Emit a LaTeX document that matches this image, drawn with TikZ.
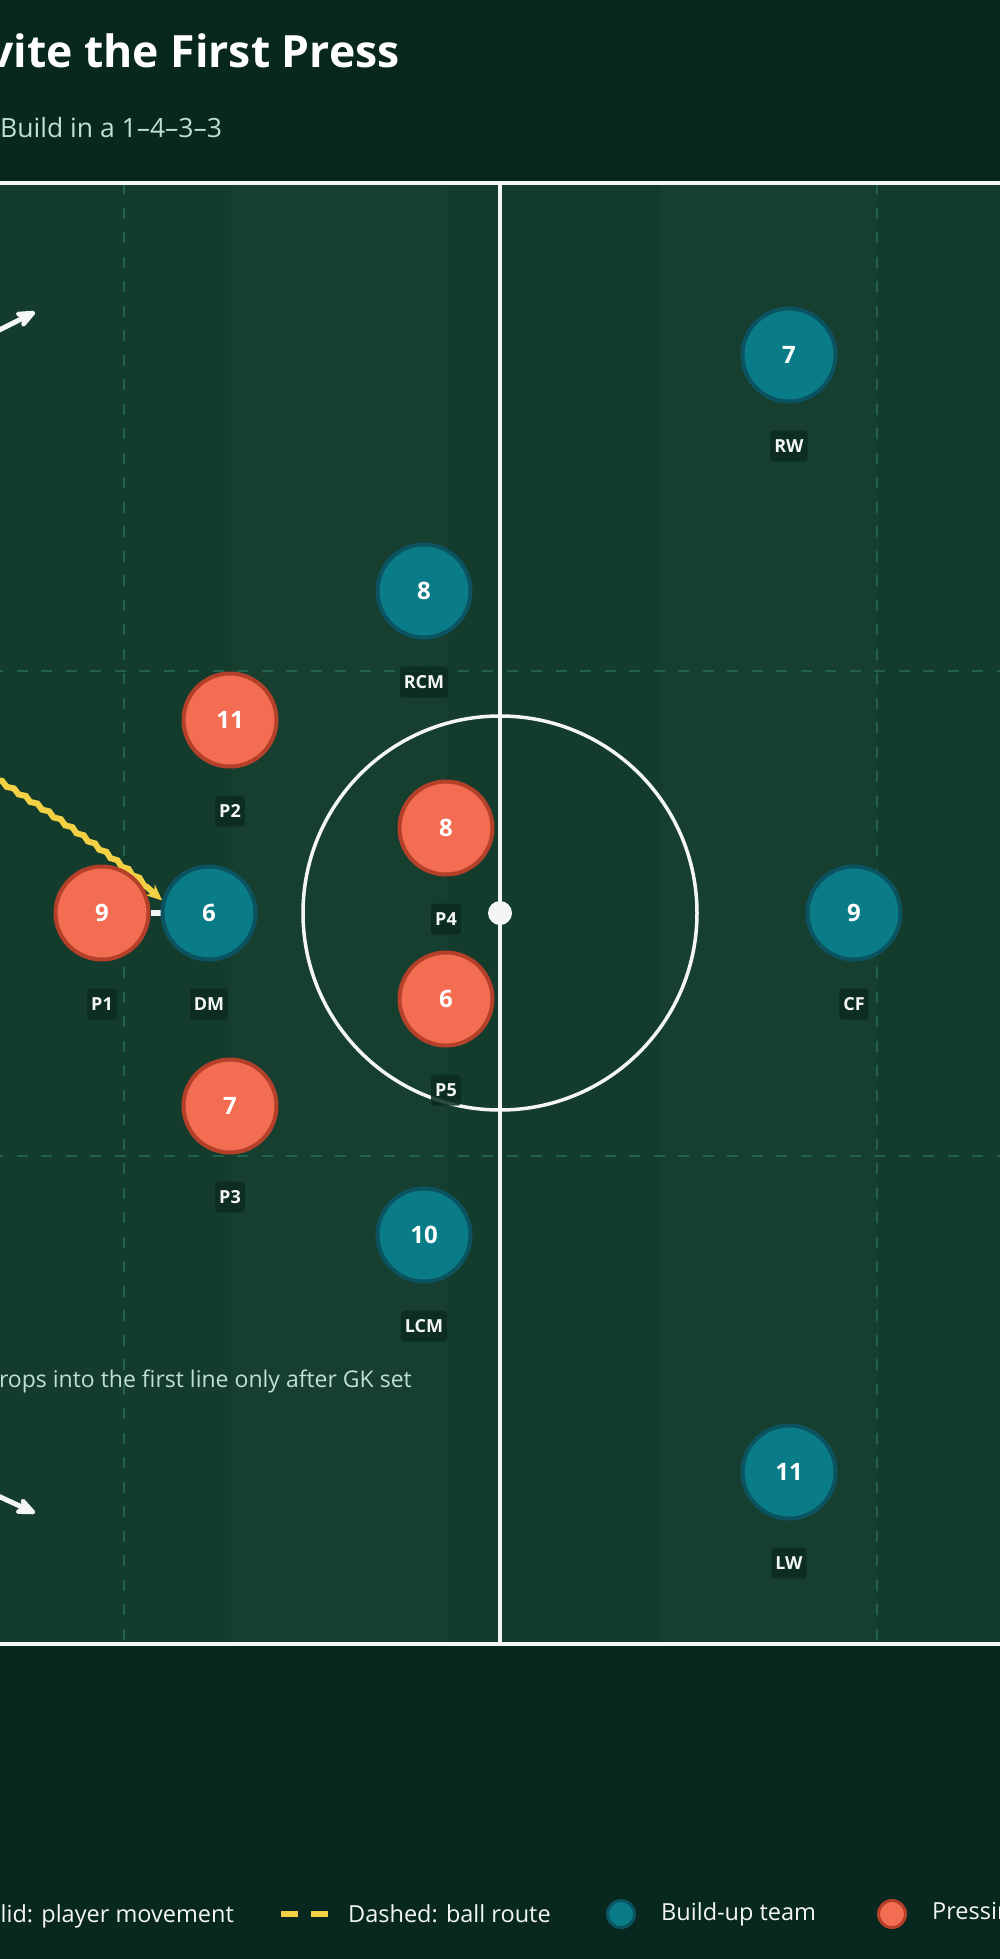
\documentclass[tikz,border=0pt]{standalone}
\usepackage{fontspec}
\setmainfont{Open Sans}
\usetikzlibrary{calc, arrows.meta, positioning, backgrounds, decorations.pathmorphing}

\definecolor{nightbg}{HTML}{08271E}
\definecolor{pitchdark}{HTML}{143C2D}
\definecolor{pitchlight}{HTML}{163F30}
\definecolor{zoneline}{HTML}{22614A}
\definecolor{chalk}{HTML}{F3F6F4}
\definecolor{mint}{HTML}{BFE0D2}
\definecolor{tealfill}{HTML}{0A7C87}
\definecolor{tealline}{HTML}{0B5361}
\definecolor{redfill}{HTML}{F26D51}
\definecolor{redline}{HTML}{B5402A}
\definecolor{tagbg}{HTML}{0C2B21}
\definecolor{ballyellow}{HTML}{F4D045}

\tikzset{
  >={Stealth[length=26pt, width=22pt, round]},
  player/.style = {circle, minimum size=93pt, inner sep=0pt, line width=4pt,
                   text=white, font=\fontsize{24}{28}\selectfont\bfseries},
  build/.style = {player, draw=tealline, fill=tealfill},
  press/.style = {player, draw=redline, fill=redfill},
  tag/.style = {rounded corners=3pt, fill=tagbg, fill opacity=0.85, text opacity=1,
                text=chalk, font=\fontsize{18}{20}\selectfont\bfseries,
                inner xsep=4pt, inner ysep=0pt, minimum height=31pt,
                text height=13pt, text depth=0pt},
  zone/.style = {draw=zoneline, line width=2.7pt, dash pattern=on 11pt off 13.5pt},
  runline/.style = {draw=chalk, line width=5pt, ->},
  ballline/.style = {draw=ballyellow, line width=6pt, -{Stealth[length=16pt, width=14pt]},
                     decorate, decoration={snake, amplitude=1.3pt, segment length=14pt,
                     post length=20pt}},
  legtext/.style = {text=chalk, font=\fontsize{23.5}{28}\selectfont, inner sep=0pt},
}

\begin{document}
\begin{tikzpicture}[x=1pt, y=-1pt, node distance=27pt]
  \useasboundingbox (0,0) rectangle (1000,1959);

  % heading
  \node (title) [anchor=base east, text=white, inner sep=0pt,
                 font=\fontsize{44.5}{54}\selectfont\bfseries] at (400,67) {Invite the First Press};
  \node (subtitle) [anchor=base west, text=mint, inner sep=0pt,
                    font=\fontsize{26.5}{32}\selectfont] at (0,137) {Build in a 1–4–3–3};

  % build-up team
  \node (rw)  [build] at (789,355)  {7};
  \node (rcm) [build] at (424,591)  {8};
  \node (dm)  [build] at (209,913)  {6};
  \node (cf)  [build] at (854,913)  {9};
  \node (lcm) [build] at (424,1235) {10};
  \node (lw)  [build] at (789,1472) {11};
  % pressing team
  \node (p1) [press] at (102,913)  {9};
  \node (p2) [press] at (230,720)  {11};
  \node (p3) [press] at (230,1106) {7};
  \node (p4) [press] at (446,828)  {8};
  \node (p5) [press] at (446,999)  {6};

  % role tags
  \node (rwtag)  [tag, below=of rw]  {RW};
  \node (rcmtag) [tag, below=of rcm] {RCM};
  \node (dmtag)  [tag, below=of dm]  {DM};
  \node (cftag)  [tag, below=of cf]  {CF};
  \node (lcmtag) [tag, below=of lcm] {LCM};
  \node (lwtag)  [tag, below=of lw]  {LW};
  \node (p1tag)  [tag, below=of p1]  {P1};
  \node (p2tag)  [tag, below=of p2]  {P2};
  \node (p3tag)  [tag, below=of p3]  {P3};
  \node (p4tag)  [tag, below=of p4]  {P4};
  \node (p5tag)  [tag, below=of p5]  {P5};

  \node (note) [anchor=base east, text=mint, inner sep=0pt,
                font=\fontsize{23}{28}\selectfont] at (412,1387) {DM drops into the first line only after GK set};

  % legend
  \node (legrun) [legtext, anchor=base east] at (234,1922) {Solid: player movement};
  \draw[draw=ballyellow, line width=6pt, dash pattern=on 17pt off 13pt] (281,1914) -- (328,1914);
  \node (legball) [legtext, anchor=base west] at (348,1922) {Dashed: ball route};
  \node (legbuild) [build, minimum size=27pt, line width=3pt] at (621,1914) {};
  \node (legbuildtxt) [legtext, right=25pt of legbuild] {Build-up team};
  \node (legpress) [press, minimum size=27pt, line width=3pt] at (892,1914) {};
  \node (legpresstxt) [legtext, right=25pt of legpress] {Pressing team};

  \begin{pgfonlayer}{background}
    \fill[nightbg] (0,0) rectangle (1000,1959);
    % pitch
    \fill[pitchdark] (-400,183) rectangle (1400,1644);
    \foreach \sx in {231,662}
      \fill[pitchlight] (\sx,183) rectangle ++(215.5,1461);
    \foreach \zx in {124,877}
      \draw[zone] (\zx,183) -- (\zx,1644);
    \foreach \zy in {671,1156}
      \draw[zone] (-400,\zy) -- (1400,\zy);
    \draw[chalk, line width=4pt] (-400,183) -- (1400,183) (-400,1644) -- (1400,1644);
    \draw[chalk, line width=3.5pt] (500,183) -- (500,1644);
    \draw[chalk, line width=3.5pt] (500,913) circle[radius=197];
    \fill[chalk] (500,913) circle[radius=12];

    % runs and ball route
    \coordinate (rbstart) at (-80,370);
    \coordinate (rbrun)   at (35,312);
    \coordinate (lbstart) at (-80,1460);
    \coordinate (lbrun)   at (35,1513);
    \coordinate (cbball)  at (-150,700);
    \draw[runline] (rbstart) -- (rbrun);
    \draw[runline] (lbstart) -- (lbrun);
    \draw[chalk, line width=6pt] (p1) -- (dm);
    \draw[ballline] (cbball) .. controls (-70,735) and (80,825) .. (dm.165);
  \end{pgfonlayer}
\end{tikzpicture}
\end{document}
